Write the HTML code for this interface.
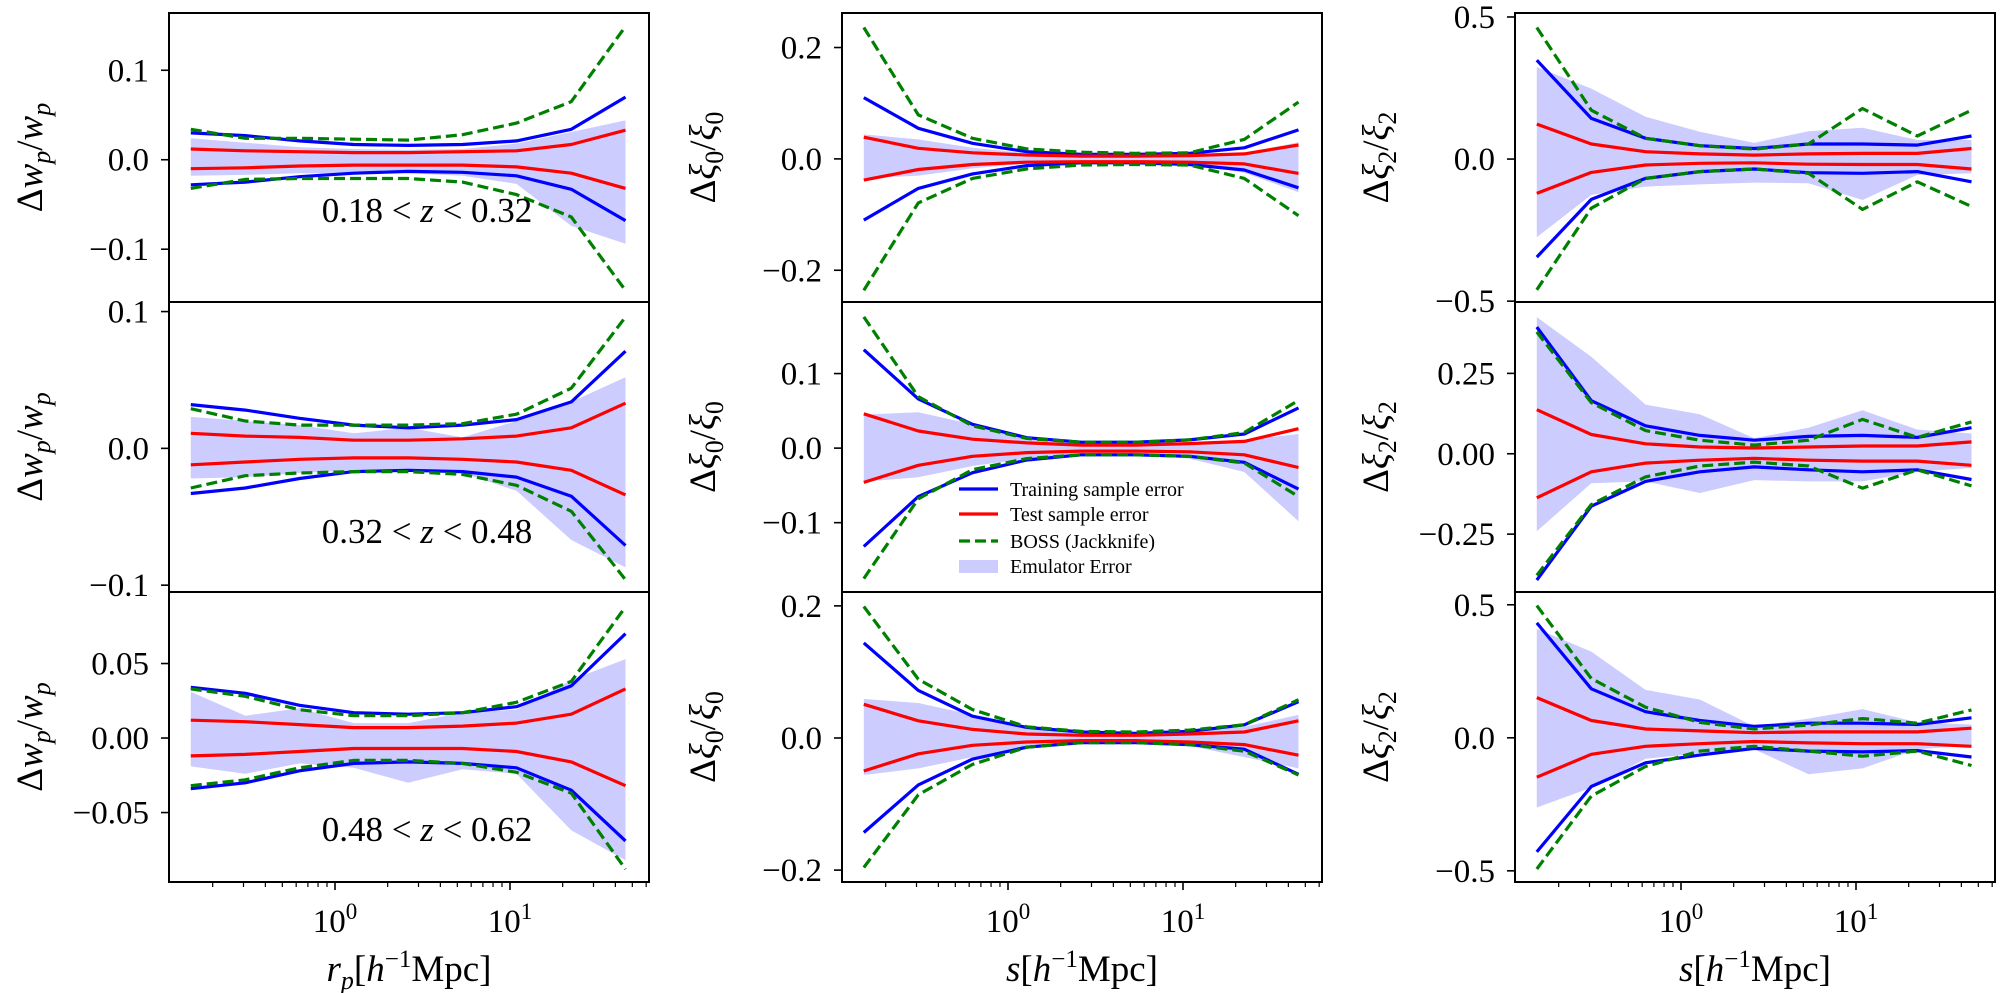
<!DOCTYPE html>
<html><head><meta charset="utf-8"><style>
html,body{margin:0;padding:0;background:#fff;}
svg{display:block;font-family:"Liberation Serif",serif;}
</style></head><body>
<svg id="fig" width="2000" height="993" viewBox="0 0 2000 993" xmlns="http://www.w3.org/2000/svg"></svg>
<script>
// ---- data ----
const xVals = [0.150, 0.307, 0.627, 1.28, 2.62, 5.35, 10.9, 22.4, 45.7];
// column 1 (w_p)
const c1r1_blueHi = [0.030,0.027,0.021,0.017,0.016,0.017,0.021,0.034,0.070];
const c1r1_blueLo = [-0.028,-0.025,-0.019,-0.015,-0.013,-0.014,-0.018,-0.033,-0.068];
const c1r1_redHi = [0.012,0.010,0.009,0.008,0.008,0.009,0.010,0.017,0.033];
const c1r1_redLo = [-0.010,-0.009,-0.007,-0.006,-0.006,-0.006,-0.008,-0.015,-0.032];
const c1r1_greenHi = [0.034,0.024,0.024,0.023,0.022,0.028,0.041,0.065,0.149];
const c1r1_greenLo = [-0.032,-0.022,-0.021,-0.021,-0.021,-0.025,-0.039,-0.064,-0.146];
const c1r1_bandHi = [0.024,0.019,0.014,0.012,0.011,0.012,0.018,0.031,0.044];
const c1r1_bandLo = [-0.018,-0.017,-0.015,-0.015,-0.015,-0.018,-0.027,-0.074,-0.094];

const c1r2_blueHi = [0.032,0.028,0.022,0.017,0.015,0.017,0.021,0.034,0.071];
const c1r2_blueLo = [-0.033,-0.029,-0.022,-0.017,-0.016,-0.017,-0.021,-0.035,-0.071];
const c1r2_redHi = [0.011,0.009,0.008,0.006,0.006,0.007,0.009,0.015,0.033];
const c1r2_redLo = [-0.012,-0.010,-0.008,-0.007,-0.007,-0.008,-0.010,-0.016,-0.034];
const c1r2_greenHi = [0.029,0.020,0.017,0.017,0.017,0.018,0.025,0.044,0.096];
const c1r2_greenLo = [-0.029,-0.020,-0.018,-0.017,-0.017,-0.019,-0.027,-0.046,-0.096];
const c1r2_bandHi = [0.023,0.020,0.017,0.011,0.015,0.008,0.020,0.034,0.052];
const c1r2_bandLo = [-0.022,-0.021,-0.018,-0.016,-0.017,-0.018,-0.031,-0.067,-0.087];

const c1r3_blueHi = [0.034,0.030,0.022,0.017,0.016,0.017,0.021,0.035,0.070];
const c1r3_blueLo = [-0.034,-0.030,-0.022,-0.017,-0.016,-0.017,-0.020,-0.035,-0.069];
const c1r3_redHi = [0.012,0.011,0.009,0.007,0.007,0.008,0.010,0.016,0.033];
const c1r3_redLo = [-0.012,-0.011,-0.009,-0.007,-0.007,-0.007,-0.009,-0.016,-0.032];
const c1r3_greenHi = [0.033,0.028,0.019,0.015,0.015,0.017,0.024,0.038,0.088];
const c1r3_greenLo = [-0.032,-0.028,-0.020,-0.015,-0.015,-0.017,-0.023,-0.037,-0.088];
const c1r3_bandHi = [0.031,0.015,0.020,0.010,0.010,0.017,0.019,0.039,0.053];
const c1r3_bandLo = [-0.019,-0.024,-0.017,-0.020,-0.030,-0.021,-0.024,-0.062,-0.082];
// column 2 (xi_0)
const c2r1_blueHi = [0.110,0.055,0.028,0.013,0.008,0.008,0.010,0.020,0.052];
const c2r1_blueLo = [-0.110,-0.053,-0.027,-0.012,-0.007,-0.007,-0.010,-0.020,-0.052];
const c2r1_redHi = [0.039,0.019,0.011,0.007,0.005,0.005,0.006,0.009,0.025];
const c2r1_redLo = [-0.038,-0.019,-0.010,-0.006,-0.005,-0.005,-0.006,-0.009,-0.026];
const c2r1_greenHi = [0.236,0.079,0.037,0.018,0.012,0.010,0.011,0.035,0.102];
const c2r1_greenLo = [-0.236,-0.079,-0.035,-0.018,-0.011,-0.010,-0.011,-0.035,-0.102];
const c2r1_bandHi = [0.044,0.035,0.020,0.010,0.006,0.005,0.006,0.010,0.030];
const c2r1_bandLo = [-0.035,-0.030,-0.017,-0.008,-0.005,-0.005,-0.008,-0.025,-0.060];

const c2r2_blueHi = [0.132,0.066,0.032,0.014,0.008,0.008,0.011,0.019,0.054];
const c2r2_blueLo = [-0.132,-0.065,-0.033,-0.016,-0.009,-0.009,-0.011,-0.019,-0.055];
const c2r2_redHi = [0.046,0.023,0.012,0.007,0.004,0.004,0.006,0.009,0.026];
const c2r2_redLo = [-0.046,-0.023,-0.011,-0.006,-0.004,-0.004,-0.005,-0.009,-0.026];
const c2r2_greenHi = [0.176,0.069,0.030,0.013,0.008,0.008,0.011,0.021,0.064];
const c2r2_greenLo = [-0.175,-0.068,-0.029,-0.014,-0.009,-0.009,-0.011,-0.020,-0.065];
const c2r2_bandHi = [0.045,0.048,0.032,0.014,0.008,0.007,0.007,0.011,0.019];
const c2r2_bandLo = [-0.045,-0.039,-0.024,-0.014,-0.009,-0.009,-0.014,-0.032,-0.098];

const c2r3_blueHi = [0.144,0.072,0.033,0.016,0.009,0.007,0.010,0.020,0.055];
const c2r3_blueLo = [-0.143,-0.071,-0.032,-0.014,-0.007,-0.007,-0.010,-0.017,-0.055];
const c2r3_redHi = [0.051,0.026,0.013,0.006,0.004,0.004,0.006,0.009,0.026];
const c2r3_redLo = [-0.050,-0.024,-0.011,-0.006,-0.004,-0.004,-0.006,-0.010,-0.026];
const c2r3_greenHi = [0.199,0.089,0.043,0.017,0.010,0.009,0.012,0.020,0.058];
const c2r3_greenLo = [-0.196,-0.086,-0.040,-0.014,-0.007,-0.007,-0.010,-0.020,-0.056];
const c2r3_bandHi = [0.059,0.053,0.035,0.014,0.007,0.006,0.009,0.017,0.035];
const c2r3_bandLo = [-0.056,-0.046,-0.029,-0.014,-0.009,-0.009,-0.012,-0.029,-0.046];
// column 3 (xi_2)
const c3r1_blueHi = [0.348,0.143,0.073,0.047,0.037,0.053,0.053,0.049,0.081];
const c3r1_blueLo = [-0.345,-0.142,-0.068,-0.044,-0.035,-0.048,-0.050,-0.044,-0.080];
const c3r1_redHi = [0.123,0.053,0.026,0.018,0.014,0.018,0.020,0.020,0.037];
const c3r1_redLo = [-0.121,-0.047,-0.021,-0.015,-0.013,-0.018,-0.019,-0.019,-0.035];
const c3r1_greenHi = [0.463,0.172,0.073,0.047,0.035,0.053,0.178,0.081,0.172];
const c3r1_greenLo = [-0.460,-0.173,-0.068,-0.044,-0.035,-0.050,-0.177,-0.080,-0.167];
const c3r1_bandHi = [0.324,0.248,0.149,0.096,0.057,0.098,0.110,0.067,0.067];
const c3r1_bandLo = [-0.275,-0.126,-0.097,-0.089,-0.083,-0.085,-0.144,-0.056,-0.050];

const c3r2_blueHi = [0.394,0.165,0.087,0.057,0.042,0.054,0.057,0.051,0.081];
const c3r2_blueLo = [-0.393,-0.163,-0.086,-0.056,-0.041,-0.050,-0.056,-0.050,-0.080];
const c3r2_redHi = [0.137,0.060,0.031,0.021,0.018,0.021,0.024,0.024,0.037];
const c3r2_redLo = [-0.137,-0.056,-0.029,-0.020,-0.014,-0.020,-0.023,-0.023,-0.036];
const c3r2_greenHi = [0.379,0.159,0.072,0.042,0.027,0.042,0.107,0.051,0.099];
const c3r2_greenLo = [-0.378,-0.158,-0.072,-0.038,-0.026,-0.038,-0.107,-0.050,-0.100];
const c3r2_bandHi = [0.425,0.302,0.153,0.123,0.048,0.081,0.135,0.075,0.063];
const c3r2_bandLo = [-0.241,-0.092,-0.086,-0.122,-0.082,-0.086,-0.086,-0.056,-0.044];

const c3r3_blueHi = [0.432,0.184,0.098,0.065,0.043,0.055,0.055,0.050,0.075];
const c3r3_blueLo = [-0.429,-0.183,-0.094,-0.065,-0.040,-0.050,-0.053,-0.048,-0.072];
const c3r3_redHi = [0.151,0.065,0.033,0.026,0.019,0.022,0.022,0.022,0.036];
const c3r3_redLo = [-0.148,-0.062,-0.032,-0.022,-0.014,-0.019,-0.022,-0.022,-0.032];
const c3r3_greenHi = [0.497,0.223,0.115,0.058,0.033,0.048,0.072,0.055,0.105];
const c3r3_greenLo = [-0.493,-0.219,-0.108,-0.050,-0.032,-0.050,-0.069,-0.050,-0.104];
const c3r3_bandHi = [0.410,0.324,0.180,0.144,0.043,0.072,0.108,0.058,0.050];
const c3r3_bandLo = [-0.262,-0.187,-0.079,-0.058,-0.043,-0.137,-0.115,-0.043,-0.029];

// y ticks per panel
const c1r1_ticks = [-0.1, 0, 0.1];  const c1r1_tickLabels = ["\u22120.1","0.0","0.1"];
const c1r2_ticks = [-0.1, 0, 0.1];  const c1r2_tickLabels = ["\u22120.1","0.0","0.1"];
const c1r3_ticks = [-0.05, 0, 0.05]; const c1r3_tickLabels = ["\u22120.05","0.00","0.05"];
const c2r1_ticks = [-0.2, 0, 0.2];  const c2r1_tickLabels = ["\u22120.2","0.0","0.2"];
const c2r2_ticks = [-0.1, 0, 0.1];  const c2r2_tickLabels = ["\u22120.1","0.0","0.1"];
const c2r3_ticks = [-0.2, 0, 0.2];  const c2r3_tickLabels = ["\u22120.2","0.0","0.2"];
const c3r1_ticks = [-0.5, 0, 0.5];  const c3r1_tickLabels = ["\u22120.5","0.0","0.5"];
const c3r2_ticks = [-0.25, 0, 0.25]; const c3r2_tickLabels = ["\u22120.25","0.00","0.25"];
const c3r3_ticks = [-0.5, 0, 0.5];  const c3r3_tickLabels = ["\u22120.5","0.0","0.5"];
const xTickVals = [1, 10];
const xTickLabels = ["0", "1"];
const redshiftLabels = ["0.18 < ", "0.32 < ", "0.48 < "];
const redshiftLabelsHi = [" < 0.32", " < 0.48", " < 0.62"];

// ---- layout ----
const NS = "http://www.w3.org/2000/svg";
const svg = document.getElementById('fig');
const colLeft = [169, 842, 1515];
const colW = 480;
const rowTop = [13, 302, 592];
const rowBot = [302, 592, 882];
// [ymin, ymax] per column/row
const yLims = [[[-0.159,0.164],[-0.105,0.107],[-0.0966,0.098]],
               [[-0.257,0.262],[-0.193,0.196],[-0.218,0.221]],
               [[-0.503,0.514],[-0.43,0.472],[-0.542,0.548]]];
const logMin = -0.9486, logMax = 1.7943;

function mk(tag, attrs, parent){
  const e = document.createElementNS(NS, tag);
  for (const k in attrs) e.setAttribute(k, attrs[k]);
  (parent||svg).appendChild(e);
  return e;
}
const panelData = {
  c1r1:[c1r1_blueHi,c1r1_blueLo,c1r1_redHi,c1r1_redLo,c1r1_greenHi,c1r1_greenLo,c1r1_bandHi,c1r1_bandLo,c1r1_ticks,c1r1_tickLabels],
  c1r2:[c1r2_blueHi,c1r2_blueLo,c1r2_redHi,c1r2_redLo,c1r2_greenHi,c1r2_greenLo,c1r2_bandHi,c1r2_bandLo,c1r2_ticks,c1r2_tickLabels],
  c1r3:[c1r3_blueHi,c1r3_blueLo,c1r3_redHi,c1r3_redLo,c1r3_greenHi,c1r3_greenLo,c1r3_bandHi,c1r3_bandLo,c1r3_ticks,c1r3_tickLabels],
  c2r1:[c2r1_blueHi,c2r1_blueLo,c2r1_redHi,c2r1_redLo,c2r1_greenHi,c2r1_greenLo,c2r1_bandHi,c2r1_bandLo,c2r1_ticks,c2r1_tickLabels],
  c2r2:[c2r2_blueHi,c2r2_blueLo,c2r2_redHi,c2r2_redLo,c2r2_greenHi,c2r2_greenLo,c2r2_bandHi,c2r2_bandLo,c2r2_ticks,c2r2_tickLabels],
  c2r3:[c2r3_blueHi,c2r3_blueLo,c2r3_redHi,c2r3_redLo,c2r3_greenHi,c2r3_greenLo,c2r3_bandHi,c2r3_bandLo,c2r3_ticks,c2r3_tickLabels],
  c3r1:[c3r1_blueHi,c3r1_blueLo,c3r1_redHi,c3r1_redLo,c3r1_greenHi,c3r1_greenLo,c3r1_bandHi,c3r1_bandLo,c3r1_ticks,c3r1_tickLabels],
  c3r2:[c3r2_blueHi,c3r2_blueLo,c3r2_redHi,c3r2_redLo,c3r2_greenHi,c3r2_greenLo,c3r2_bandHi,c3r2_bandLo,c3r2_ticks,c3r2_tickLabels],
  c3r3:[c3r3_blueHi,c3r3_blueLo,c3r3_redHi,c3r3_redLo,c3r3_greenHi,c3r3_greenLo,c3r3_bandHi,c3r3_bandLo,c3r3_ticks,c3r3_tickLabels]
};
const yLabelParts = [["\u0394","w","p","/","w","p"],["\u0394","\u03be","0","/","\u03be","0"],["\u0394","\u03be","2","/","\u03be","2"]];

for (let c=0;c<3;c++){
  for (let r=0;r<3;r++){
    const key = 'c'+(c+1)+'r'+(r+1);
    const d = panelData[key];
    const L = colLeft[c], T = rowTop[r], B = rowBot[r];
    const H = B - T;
    const lo = yLims[c][r][0], hi = yLims[c][r][1];
    const xs = v => L + (Math.log10(v)-logMin)/(logMax-logMin)*colW;
    const ys = v => B - (v-lo)/(hi-lo)*H;
    const g = mk('g', {});
    
    
    const clipId = 'clip-'+key;
    const cp = mk('clipPath', {id: clipId}, g);
    mk('rect', {x:L, y:T, width:colW, height:H}, cp);
    const plot = mk('g', {'clip-path':'url(#'+clipId+')'}, g);
    let pts = xVals.map((x,i)=>xs(x).toFixed(1)+','+ys(d[6][i]).toFixed(1));
    pts = pts.concat(xVals.map((x,i)=>xs(x).toFixed(1)+','+ys(d[7][i]).toFixed(1)).reverse());
    const band = mk('polygon', {points: pts.join(' '), fill:'#ccccff', stroke:'none'}, plot);
    
    
    const series = [[0,'#0000ff',null,'training-error-upper'],[1,'#0000ff',null,'training-error-lower'],
                    [2,'#ff0000',null,'test-error-upper'],[3,'#ff0000',null,'test-error-lower'],
                    [4,'#008000','11 5','boss-jackknife-upper'],[5,'#008000','11 5','boss-jackknife-lower']];
    for (const s of series){
      const p = xVals.map((x,i)=>xs(x).toFixed(1)+','+ys(d[s[0]][i]).toFixed(1)).join(' ');
      const a = {points:p, fill:'none', stroke:s[1], 'stroke-width':3.2, 'stroke-linejoin':'round'};
      if (s[2]) a['stroke-dasharray'] = s[2];
      const line = mk('polyline', a, plot);
      
      
    }
    const frame = mk('rect', {x:L, y:T, width:colW, height:H, fill:'none', stroke:'#000', 'stroke-width':2}, g);
    
    
    d[8].forEach((t,i)=>{
      const y = ys(t);
      mk('line', {x1:L-8, x2:L, y1:y, y2:y, stroke:'#000', 'stroke-width':1.6}, g);
      const tl = mk('text', {x:L-20, y:y+11, 'text-anchor':'end', 'font-size':33, fill:'#000'}, g);
      tl.textContent = d[9][i];
      
      
    });
    const yl = mk('text', {transform:'translate('+(L-127)+','+((T+B)/2)+') rotate(-90)', 'text-anchor':'middle', 'font-size':37, fill:'#000'}, g);
    
    
    const pr = yLabelParts[c];
    const subStyle = c===0 ? ' font-style="italic"' : '';
    yl.innerHTML = '<tspan>'+pr[0]+'</tspan><tspan font-style="italic">'+pr[1]+'</tspan><tspan font-size="26" dy="8"'+subStyle+'>'+pr[2]+'</tspan><tspan dy="-8">'+pr[3]+'</tspan><tspan font-style="italic">'+pr[4]+'</tspan><tspan font-size="26" dy="8"'+subStyle+'>'+pr[5]+'</tspan>';
    if (r===2){
      for (let dec=-1; dec<=1; dec++){
        for (let m=1;m<10;m++){
          const v = m*Math.pow(10,dec);
          const lv = Math.log10(v);
          if (lv<logMin || lv>logMax) continue;
          const x = xs(v);
          const major = (m===1);
          mk('line', {x1:x, x2:x, y1:B, y2:B+(major?8:5), stroke:'#000', 'stroke-width':major?1.6:1.2}, g);
        }
      }
      xTickVals.forEach((v,i)=>{
        const t = mk('text', {x:xs(v), y:B+50, 'text-anchor':'middle', 'font-size':33, fill:'#000'}, g);
        
        
        t.innerHTML = '10<tspan font-size="23" dy="-13">'+xTickLabels[i]+'</tspan>';
      });
      const xl = mk('text', {x:L+colW/2, y:B+99, 'text-anchor':'middle', 'font-size':37, fill:'#000'}, g);
      
      
      xl.innerHTML = (c===0 ? '<tspan font-style="italic">r</tspan><tspan font-style="italic" font-size="26" dy="8">p</tspan><tspan dy="-8">[</tspan>' : '<tspan font-style="italic">s</tspan><tspan>[</tspan>')
        + '<tspan font-style="italic">h</tspan><tspan font-size="25" dy="-14">\u22121</tspan><tspan dy="14">Mpc]</tspan>';
    }
    if (c===0){
      const za = mk('text', {x:427, y:[222,543,841][r], 'text-anchor':'middle', 'font-size':35, fill:'#000'}, g);
      
      
      za.innerHTML = redshiftLabels[r]+'<tspan font-style="italic">z</tspan>'+redshiftLabelsHi[r];
    }
  }
}
const leg = mk('g', {});


const legItems = [['line','#0000ff',null,'Training sample error',489],['line','#ff0000',null,'Test sample error',514],['line','#008000','11 5','BOSS (Jackknife)',541],['patch','#ccccff',null,'Emulator Error',566]];
legItems.forEach(it=>{
  const e = mk('g', {}, leg);
  
  
  if (it[0]==='line'){
    const a = {x1:959, x2:998, y1:it[4], y2:it[4], stroke:it[1], 'stroke-width':3.2};
    if (it[2]) a['stroke-dasharray'] = it[2];
    mk('line', a, e);
  } else {
    mk('rect', {x:959, y:it[4]-6, width:39, height:13, fill:it[1]}, e);
  }
  const t = mk('text', {x:1010, y:it[4]+7, 'font-size':20, fill:'#000'}, e);
  t.textContent = it[3];
});
</script>
</body></html>
